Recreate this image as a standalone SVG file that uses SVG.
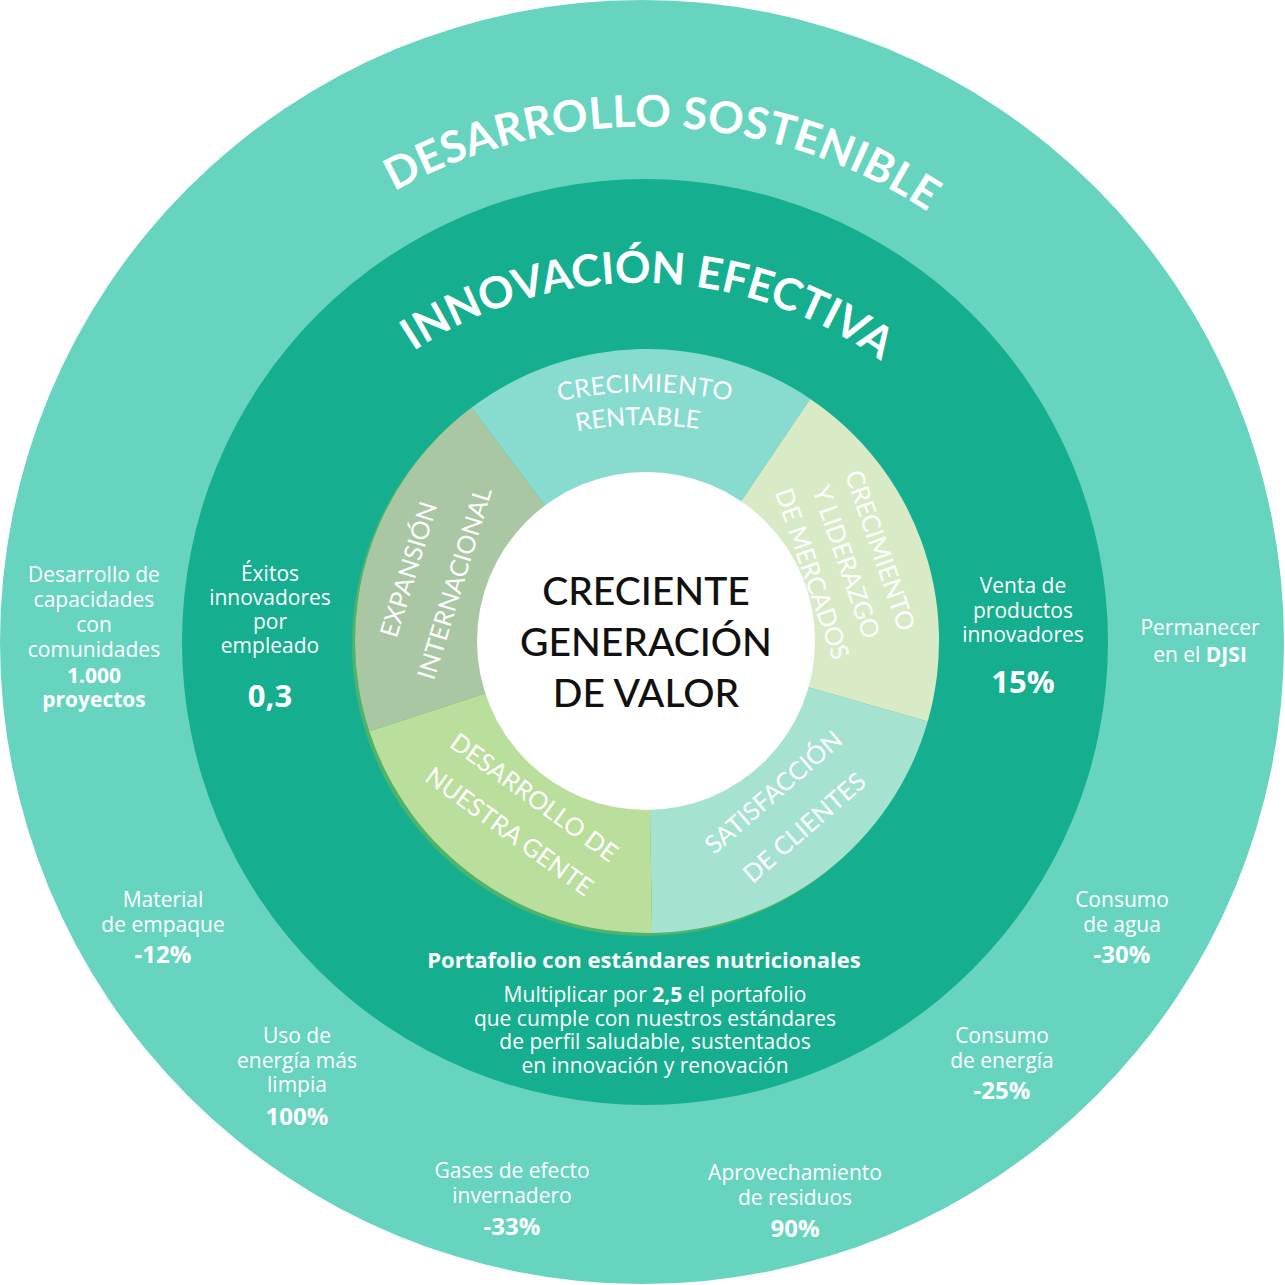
<svg xmlns="http://www.w3.org/2000/svg" xmlns:xlink="http://www.w3.org/1999/xlink" width="1285" height="1285" viewBox="0 0 1285 1285">
<style>
.title{font-family:Lato,"Open Sans",sans-serif;font-weight:700;fill:#fff}
.seg{font-family:Lato,"Open Sans",sans-serif;font-size:25px;fill:#fff;text-anchor:middle}
.center{font-family:Lato,"Open Sans",sans-serif;font-size:39px;font-weight:500;fill:#111;text-anchor:middle}
.body{font-family:"Open Sans","Noto Sans",sans-serif;font-size:21px;fill:#fff;text-anchor:middle}
.b{font-weight:700}
.big{font-size:31px}
.mid{font-size:24px}
.head{font-size:22px}
</style>
<defs>
<path id="arcDS" d="M137.1,550.8 A515,515 0 0 1 1156.4,590"/>
<path id="arcIE" d="M237.8,613.4 A410,410 0 0 1 1045.2,630.3"/>
<path id="arcCR" d="M298.6,592 A400,400 0 0 1 991.4,592"/>
<path id="arcRE" d="M323.7,614.6 A367,367 0 0 1 959.2,602.4"/>
</defs>

<g id="outer-ring">
<circle cx="642" cy="642" r="642" fill="#67D4C0"/>
<text class="title" font-size="44" letter-spacing="0.3"><textPath xlink:href="#arcDS" href="#arcDS" startOffset="50%" text-anchor="middle">DESARROLLO SOSTENIBLE</textPath></text>
</g>

<g id="inner-ring">
<circle cx="645" cy="642" r="463" fill="#15AF8F"/>
<text class="title" font-size="44"><textPath xlink:href="#arcIE" href="#arcIE" startOffset="50%" text-anchor="middle">INNOVACIÓN EFECTIVA</textPath></text>
</g>

<g id="segments">
<circle cx="644" cy="644" r="292" fill="#4DB46C"/>
<g id="seg-crecimiento-rentable">
<path d="M647,641 L471.3,407.8 A292,292 0 0 1 810.3,398.9 Z" fill="#87DCCF"/>
<text class="seg" letter-spacing="0.5"><textPath xlink:href="#arcCR" href="#arcCR" startOffset="50%">CRECIMIENTO</textPath></text>
<text class="seg"><textPath xlink:href="#arcRE" href="#arcRE" startOffset="50%">RENTABLE</textPath></text>
</g>
<g id="seg-crecimiento-liderazgo">
<path d="M647,641 L810.3,398.9 A292,292 0 0 1 927.7,721.5 Z" fill="#D9EBC6"/>
<g transform="translate(838,565) rotate(71)">
<text class="seg" x="0" y="-36">CRECIMIENTO</text>
<text class="seg" x="0" y="0">Y LIDERAZGO</text>
<text class="seg" x="0" y="36">DE MERCADOS</text>
</g>
</g>
<g id="seg-satisfaccion">
<path d="M647,641 L927.7,721.5 A292,292 0 0 1 652.1,933 Z" fill="#A5E3D0"/>
<g transform="translate(794.6,816.4) rotate(-41)">
<text class="seg" x="0" y="-23.5">SATISFACCIÓN</text>
<text class="seg" x="0" y="23.5">DE CLIENTES</text>
</g>
</g>
<g id="seg-desarrollo-gente">
<path d="M647,641 L652.1,933 A292,292 0 0 1 369.3,731.2 Z" fill="#BADE9B"/>
<g transform="translate(516.6,821.6) rotate(36)">
<text class="seg" x="0" y="-21">DESARROLLO DE</text>
<text class="seg" x="0" y="21">NUESTRA GENTE</text>
</g>
</g>
<g id="seg-expansion">
<path d="M647,641 L369.3,731.2 A292,292 0 0 1 471.3,407.8 Z" fill="#A9C7A3"/>
<g transform="translate(440,579) rotate(-73)">
<text class="seg" x="0" y="-24">EXPANSIÓN</text>
<text class="seg" x="0" y="24">INTERNACIONAL</text>
</g>
</g>
</g>

<g id="center">
<circle cx="646" cy="641" r="169" fill="#FFFFFF"/>
<text class="center" x="646" y="605">CRECIENTE</text>
<text class="center" x="646" y="656">GENERACIÓN</text>
<text class="center" x="646" y="707">DE VALOR</text>
</g>

<g id="kpi-comunidades">
<text class="body" x="94" y="582">Desarrollo de</text>
<text class="body" x="94" y="607">capacidades</text>
<text class="body" x="94" y="632">con</text>
<text class="body" x="94" y="657">comunidades</text>
<text class="body b" x="94" y="683">1.000</text>
<text class="body b" x="94" y="707">proyectos</text>
</g>
<g id="kpi-exitos">
<text class="body" x="270" y="581">Éxitos</text>
<text class="body" x="270" y="605">innovadores</text>
<text class="body" x="270" y="629">por</text>
<text class="body" x="270" y="653">empleado</text>
<text class="body b big" x="270" y="707">0,3</text>
</g>
<g id="kpi-venta">
<text class="body" x="1023" y="593">Venta de</text>
<text class="body" x="1023" y="618">productos</text>
<text class="body" x="1023" y="642">innovadores</text>
<text class="body b big" x="1023" y="693">15%</text>
</g>
<g id="kpi-djsi">
<text class="body" x="1200" y="635">Permanecer</text>
<text class="body" x="1200" y="662">en el <tspan class="b">DJSI</tspan></text>
</g>
<g id="kpi-empaque">
<text class="body" x="163" y="907">Material</text>
<text class="body" x="163" y="932">de empaque</text>
<text class="body b mid" x="163" y="963">-12%</text>
</g>
<g id="kpi-energia-limpia">
<text class="body" x="297" y="1043">Uso de</text>
<text class="body" x="297" y="1068">energía más</text>
<text class="body" x="297" y="1092">limpia</text>
<text class="body b mid" x="297" y="1125">100%</text>
</g>
<g id="kpi-gases">
<text class="body" x="512" y="1178">Gases de efecto</text>
<text class="body" x="512" y="1203">invernadero</text>
<text class="body b mid" x="512" y="1235">-33%</text>
</g>
<g id="kpi-residuos">
<text class="body" x="795" y="1180">Aprovechamiento</text>
<text class="body" x="795" y="1205">de residuos</text>
<text class="body b mid" x="795" y="1237">90%</text>
</g>
<g id="kpi-consumo-energia">
<text class="body" x="1002" y="1043">Consumo</text>
<text class="body" x="1002" y="1068">de energía</text>
<text class="body b mid" x="1002" y="1099">-25%</text>
</g>
<g id="kpi-agua">
<text class="body" x="1122" y="907">Consumo</text>
<text class="body" x="1122" y="932">de agua</text>
<text class="body b mid" x="1122" y="963">-30%</text>
</g>
<g id="kpi-portafolio">
<text class="body b head" x="644" y="968">Portafolio con estándares nutricionales</text>
<text class="body" x="655" y="1002">Multiplicar por <tspan class="b">2,5</tspan> el portafolio</text>
<text class="body" x="655" y="1025.5">que cumple con nuestros estándares</text>
<text class="body" x="655" y="1049">de perfil saludable, sustentados</text>
<text class="body" x="655" y="1072.5">en innovación y renovación</text>
</g>
</svg>
